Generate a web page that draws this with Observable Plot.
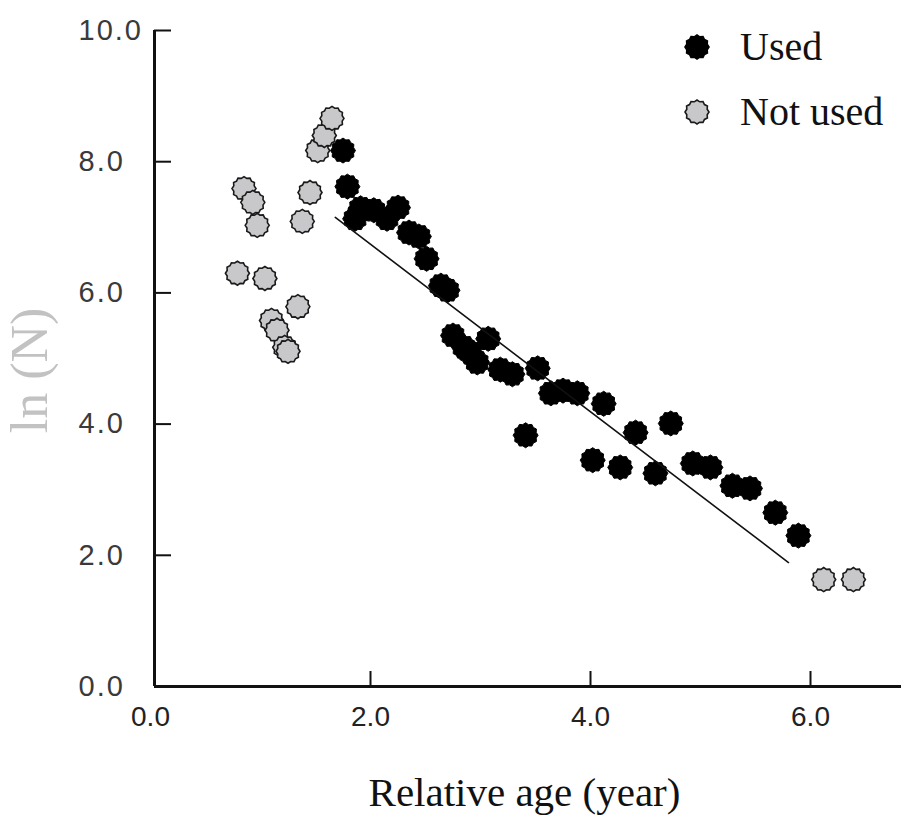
<!DOCTYPE html>
<html><head><meta charset="utf-8">
<script src="https://cdn.jsdelivr.net/npm/d3@7"></script>
<script src="https://cdn.jsdelivr.net/npm/@observablehq/plot@0.6"></script>
<style>
body{margin:0;background:#fff;}
#wrap{position:relative;width:901px;height:835px;}
.legend{position:absolute;left:682px;top:14px;font-family:"Liberation Serif","Times New Roman",serif;font-size:40px;color:#111;}
.legend .row{display:flex;align-items:center;height:65px;}
.legend svg{margin-right:28px;}
</style></head><body><div id="wrap"></div>
<script>
// Data
const usedX = [1.75,1.79,1.86,1.91,2.03,2.15,2.25,2.35,2.44,2.51,2.64,2.70,2.75,2.85,2.91,2.97,3.07,3.18,3.29,3.41,3.52,3.64,3.75,3.88,4.12,4.02,4.27,4.41,4.59,4.73,4.93,5.09,5.29,5.45,5.68,5.89];
const usedY = [8.17,7.62,7.13,7.29,7.26,7.13,7.30,6.92,6.86,6.52,6.11,6.04,5.35,5.17,5.08,4.94,5.30,4.83,4.76,3.83,4.85,4.47,4.51,4.47,4.31,3.45,3.34,3.87,3.25,4.01,3.40,3.34,3.06,3.02,2.65,2.30];
const notUsedX = [0.79,0.85,0.93,0.97,1.04,1.10,1.15,1.22,1.25,1.34,1.38,1.45,1.52,1.58,1.65,6.12,6.39];
const notUsedY = [6.30,7.59,7.38,7.03,6.22,5.58,5.43,5.17,5.11,5.79,7.09,7.53,8.17,8.40,8.66,1.63,1.63];
const fitX = [1.68, 5.80];
const fitY = [7.15, 1.89];
const xTicks = [0, 2, 4, 6];
const yTicks = [0, 2, 4, 6, 8, 10];
const seriesNames = ["Used", "Not used"];
const xTitle = "Relative age (year)";
const yTitle = "ln (N)";

const used = usedX.map((x, i) => ({x, y: usedY[i]}));
const notUsed = notUsedX.map((x, i) => ({x, y: notUsedY[i]}));
const fit = fitX.map((x, i) => ({x, y: fitY[i]}));

// bumpy circular marker
const flower = {draw(ctx, size) {
  const r = Math.sqrt(size / Math.PI), n = 12;
  for (let i = 0; i < 2 * n; i++) {
    const a = i * Math.PI / n, rr = i % 2 ? r * 0.88 : r;
    const px = rr * Math.cos(a), py = rr * Math.sin(a);
    if (i) ctx.lineTo(px, py); else ctx.moveTo(px, py);
  }
  ctx.closePath();
}};

const W = 901, H = 835, mL = 150, mR = 3, mT = 30, mB = 149;
const fmt = d => d.toFixed(1);

const plot = Plot.plot({
  width: W, height: H,
  marginLeft: mL, marginRight: mR, marginTop: mT, marginBottom: mB,
  x: {domain: [0, 6.8], axis: null},
  y: {domain: [0, 10], axis: null},
  style: {background: "white", overflow: "visible"},
  marks: [
    Plot.ruleY([0], {stroke: "#111", strokeWidth: 3, dx: 4}),
    Plot.ruleX([0], {y1: 0, y2: 10, stroke: "#111", strokeWidth: 3, dx: 4}),
    Plot.tickX(xTicks.filter(d => d !== 0), {x: d => d, insetTop: (H - mT - mB) - 15, stroke: "#111", strokeWidth: 2}),
    Plot.tickY(yTicks.filter(d => d !== 0), {y: d => d, insetRight: (W - mL - mR) - 17, stroke: "#111", strokeWidth: 2, dx: 4}),
    Plot.axisX(xTicks, {tickSize: 0, tickPadding: 20, tickFormat: fmt, fontSize: 28, fill: "#222", fontFamily: "Arial, 'Liberation Sans', sans-serif", label: null}),
    Plot.axisY(yTicks, {tickSize: 0, tickPadding: 72, textAnchor: "start", tickFormat: fmt, fontSize: 29, fill: "#3a3a3a", fontFamily: "Arial, 'Liberation Sans', sans-serif", label: null}),
    Plot.text([xTitle], {frameAnchor: "bottom", dy: 119, fontSize: 41, fill: "#111", fontFamily: "'Liberation Serif', 'Times New Roman', serif"}),
    Plot.text([yTitle], {frameAnchor: "left", textAnchor: "middle", dx: -120, dy: 12, rotate: -90, fontSize: 52, fill: "#c2c2c2", fontFamily: "'Liberation Serif', 'Times New Roman', serif"}),
    Plot.dot(notUsed, {x: "x", y: "y", r: 12, symbol: flower, fill: "#c8c8cb", stroke: "#1a1a1a", strokeWidth: 1.6}),
    Plot.dot(used, {x: "x", y: "y", r: 12.5, symbol: flower, fill: "#000", stroke: "#000", strokeWidth: 1}),
    Plot.line(fit, {x: "x", y: "y", stroke: "#111", strokeWidth: 1.6})
  ]
});

d3.select(plot).selectAll('g[aria-label="y-axis tick label"] text').style("letter-spacing", "2px");

const wrap = document.getElementById("wrap");
wrap.appendChild(plot);

// legend
const legend = document.createElement("div");
legend.className = "legend";
const symPath = d3.symbol(flower, Math.PI * 12 * 12)();
const styles = [{fill: "#000", stroke: "#000"}, {fill: "#c8c8cb", stroke: "#1a1a1a"}];
seriesNames.forEach((name, i) => {
  const row = document.createElement("div");
  row.className = "row";
  row.innerHTML = `<svg width="30" height="30" viewBox="-15 -15 30 30"><path d="${symPath}" fill="${styles[i].fill}" stroke="${styles[i].stroke}" stroke-width="1.6"/></svg><span>${name}</span>`;
  legend.appendChild(row);
});
wrap.appendChild(legend);
</script>
</body></html>
